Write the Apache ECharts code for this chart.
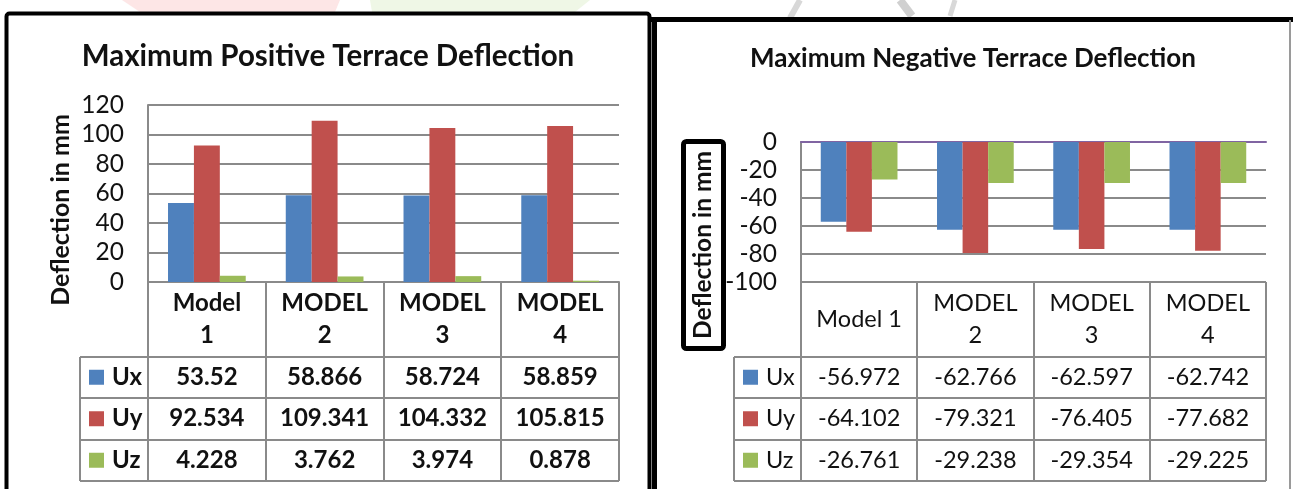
<!DOCTYPE html>
<html>
<head>
<meta charset="utf-8">
<script src="https://cdn.jsdelivr.net/npm/echarts@6/dist/echarts.min.js"></script>
<style>
html,body{margin:0;padding:0;background:#fff;}
#c{width:1295px;height:489px;}
</style>
</head>
<body>
<div id="c"></div>
<script>
// ---------- data ----------
const seriesNames = ['Ux', 'Uy', 'Uz'];
const posCategories = ['Model 1', 'MODEL 2', 'MODEL 3', 'MODEL 4'];
const negCategories = ['Model 1', 'MODEL 2', 'MODEL 3', 'MODEL 4'];
const posUx = [53.52, 58.866, 58.724, 58.859];
const posUy = [92.534, 109.341, 104.332, 105.815];
const posUz = [4.228, 3.762, 3.974, 0.878];
const negUx = [-56.972, -62.766, -62.597, -62.742];
const negUy = [-64.102, -79.321, -76.405, -77.682];
const negUz = [-26.761, -29.238, -29.354, -29.225];
const posTicks = [0, 20, 40, 60, 80, 100, 120];
const negTicks = [-100, -80, -60, -40, -20, 0];
const posTitle = 'Maximum Positive Terrace Deflection';
const negTitle = 'Maximum Negative Terrace Deflection';
const yName = 'Deflection in mm';

// ---------- style ----------
const FONT = 'Lato, "Open Sans", "DejaVu Sans", sans-serif';
const COLORS = ['#4F81BD', '#C0504D', '#9BBB59'];
const GRIDC = '#8a8a8a';
const TXT = '#111111';

const chart = echarts.init(document.getElementById('c'), null, {renderer: 'canvas'});

function yAxisCfg(gi, ticks) {
  return {
    gridIndex: gi, type: 'value',
    min: ticks[0], max: ticks[ticks.length - 1], interval: ticks[1] - ticks[0],
    axisLine: {show: true, lineStyle: {color: GRIDC, width: 2}},
    axisTick: {show: false},
    splitLine: {show: true, lineStyle: {color: GRIDC, width: 2}},
    axisLabel: {fontSize: 24.5, color: TXT, fontFamily: FONT, margin: 24}
  };
}
function xAxisCfg(gi, cats, lineColor) {
  return {
    gridIndex: gi, type: 'category', data: cats,
    axisLine: {show: true, onZero: true, lineStyle: {color: lineColor, width: 2}},
    axisTick: {show: false}, axisLabel: {show: false}, splitLine: {show: false}
  };
}
function bars(name, data, idx, color) {
  return {
    name: name, type: 'bar', data: data, xAxisIndex: idx, yAxisIndex: idx,
    barGap: '0%', barCategoryGap: '34%',
    itemStyle: {color: color}, silent: true, animation: false
  };
}

chart.setOption({
  backgroundColor: '#ffffff',
  animation: false,
  grid: [
    {left: 148, top: 105, width: 471, height: 177},
    {left: 801, top: 142, width: 465, height: 140}
  ],
  xAxis: [xAxisCfg(0, posCategories, GRIDC), xAxisCfg(1, negCategories, '#8064A2')],
  yAxis: [yAxisCfg(0, posTicks), yAxisCfg(1, negTicks)],
  series: [
    bars(seriesNames[0], posUx, 0, COLORS[0]),
    bars(seriesNames[1], posUy, 0, COLORS[1]),
    bars(seriesNames[2], posUz, 0, COLORS[2]),
    bars(seriesNames[0], negUx, 1, COLORS[0]),
    bars(seriesNames[1], negUy, 1, COLORS[1]),
    bars(seriesNames[2], negUz, 1, COLORS[2])
  ]
});

// ---------- data tables (positions derived from axes) ----------
const measureCtx = document.createElement('canvas').getContext('2d');
function wrapLabel(text, font, maxW) {
  measureCtx.font = font;
  if (measureCtx.measureText(text).width <= maxW) return text;
  return text.split(' ').join('\n');
}
function fmt(v) { return String(v); }

function tableGraphics(axisIdx, cats, rows, minVal, cfg) {
  const out = [];
  const p0 = chart.convertToPixel({xAxisIndex: axisIdx}, 0);
  const p1 = chart.convertToPixel({xAxisIndex: axisIdx}, 1);
  const bw = p1 - p0;
  const xL = p0 - bw / 2;
  const xR = xL + bw * cats.length;
  const yTop = Math.round(chart.convertToPixel({yAxisIndex: axisIdx}, minVal));
  const headerB = yTop + cfg.headerH;
  const rowB = rows.map((r, i) => headerB + cfg.rowH * (i + 1));
  const yBot = rowB[rowB.length - 1];
  const legL = xL - cfg.legW;
  const ls = {stroke: GRIDC, lineWidth: 2};
  const L = (x1, y1, x2, y2) => out.push({type: 'line', silent: true, z: 10,
    shape: {x1: Math.round(x1), y1: Math.round(y1), x2: Math.round(x2), y2: Math.round(y2)}, style: ls});
  for (let i = 0; i <= cats.length; i++) L(xL + bw * i, yTop, xL + bw * i, yBot);
  L(legL, headerB, legL, yBot);
  L(legL, headerB, xR, headerB);
  rowB.forEach(y => L(legL, y, xR, y));
  cats.forEach((c, i) => {
    out.push({type: 'text', silent: true, z: 11,
      style: {text: wrapLabel(c, cfg.font, cfg.wrapW), x: xL + bw * (i + 0.5), y: yTop + cfg.headerH / 2,
        align: 'center', verticalAlign: 'middle', lineHeight: 32, font: cfg.font, fill: TXT}});
  });
  rows.forEach((r, ri) => {
    const yc = headerB + cfg.rowH * (ri + 0.5);
    out.push({type: 'rect', silent: true, z: 11,
      shape: {x: legL + 9, y: yc - 7.5, width: 15, height: 15}, style: {fill: r.color}});
    out.push({type: 'text', silent: true, z: 11,
      style: {text: r.name, x: legL + 32, y: yc, align: 'left', verticalAlign: 'middle', font: cfg.font, fill: TXT}});
    r.values.forEach((v, ci) => {
      out.push({type: 'text', silent: true, z: 11,
        style: {text: fmt(v), x: xL + bw * (ci + 0.5), y: yc, align: 'center', verticalAlign: 'middle',
          font: cfg.font, fill: TXT}});
    });
  });
  return out;
}

const posRows = [
  {name: seriesNames[0], values: posUx, color: COLORS[0]},
  {name: seriesNames[1], values: posUy, color: COLORS[1]},
  {name: seriesNames[2], values: posUz, color: COLORS[2]}
];
const negRows = [
  {name: seriesNames[0], values: negUx, color: COLORS[0]},
  {name: seriesNames[1], values: negUy, color: COLORS[1]},
  {name: seriesNames[2], values: negUz, color: COLORS[2]}
];

let graphics = [];
// faint background watermark
graphics.push({type: 'polygon', silent: true, z: -5, shape: {points: [[122, 0], [340, 0], [335, 12], [140, 12]]}, style: {fill: '#fde6e6'}});
graphics.push({type: 'polygon', silent: true, z: -5, shape: {points: [[370, 0], [590, 0], [575, 12], [372, 12]]}, style: {fill: '#eff7e6'}});
graphics.push({type: 'line', silent: true, z: -5, shape: {x1: 800, y1: 0, x2: 790, y2: 18}, style: {stroke: '#d8d8d8', lineWidth: 6}});
graphics.push({type: 'line', silent: true, z: -5, shape: {x1: 900, y1: 0, x2: 912, y2: 16}, style: {stroke: '#d0d0d0', lineWidth: 8}});
graphics.push({type: 'line', silent: true, z: -5, shape: {x1: 955, y1: 0, x2: 950, y2: 16}, style: {stroke: '#d8d8d8', lineWidth: 5}});

// panel borders
graphics.push({type: 'rect', silent: true, z: 20,
  shape: {x: 6.5, y: 13.5, width: 643, height: 520, r: 3}, style: {fill: null, stroke: '#000', lineWidth: 4}});
graphics.push({type: 'line', silent: true, z: 20, shape: {x1: 650, y1: 19.5, x2: 1293, y2: 19.5}, style: {stroke: '#000', lineWidth: 5}});
graphics.push({type: 'line', silent: true, z: 20, shape: {x1: 654.5, y1: 17, x2: 654.5, y2: 489}, style: {stroke: '#000', lineWidth: 5}});
graphics.push({type: 'line', silent: true, z: 20, shape: {x1: 1290, y1: 20, x2: 1290, y2: 489}, style: {stroke: '#9a9a9a', lineWidth: 2}});

// titles
graphics.push({type: 'text', silent: true, z: 12,
  style: {text: posTitle, x: 328, y: 56, align: 'center', verticalAlign: 'middle', font: 'bold 29.5px ' + FONT, fill: TXT}});
graphics.push({type: 'text', silent: true, z: 12,
  style: {text: negTitle, x: 973, y: 59, align: 'center', verticalAlign: 'middle', font: 'bold 26px ' + FONT, fill: TXT}});

// axis names
graphics.push({type: 'text', silent: true, z: 12, x: 61, y: 210, rotation: Math.PI / 2,
  style: {text: yName, x: 0, y: 0, align: 'center', verticalAlign: 'middle', font: 'bold 25px ' + FONT, fill: TXT}});
graphics.push({type: 'rect', silent: true, z: 12,
  shape: {x: 683.5, y: 141.5, width: 40, height: 207, r: 3}, style: {fill: '#fff', stroke: '#000', lineWidth: 5}});
graphics.push({type: 'text', silent: true, z: 13, x: 703.5, y: 245, rotation: Math.PI / 2,
  style: {text: yName, x: 0, y: 0, align: 'center', verticalAlign: 'middle', font: 'bold 24.5px ' + FONT, fill: TXT}});

graphics = graphics.concat(tableGraphics(0, posCategories, posRows, posTicks[0],
  {headerH: 74.5, rowH: 41.5, legW: 68, wrapW: 80, font: 'bold 24px ' + FONT}));
graphics = graphics.concat(tableGraphics(1, negCategories, negRows, negTicks[0],
  {headerH: 74.5, rowH: 41.5, legW: 67, wrapW: 92, font: '23.5px ' + FONT}));

chart.setOption({graphic: graphics});
</script>
</body>
</html>
